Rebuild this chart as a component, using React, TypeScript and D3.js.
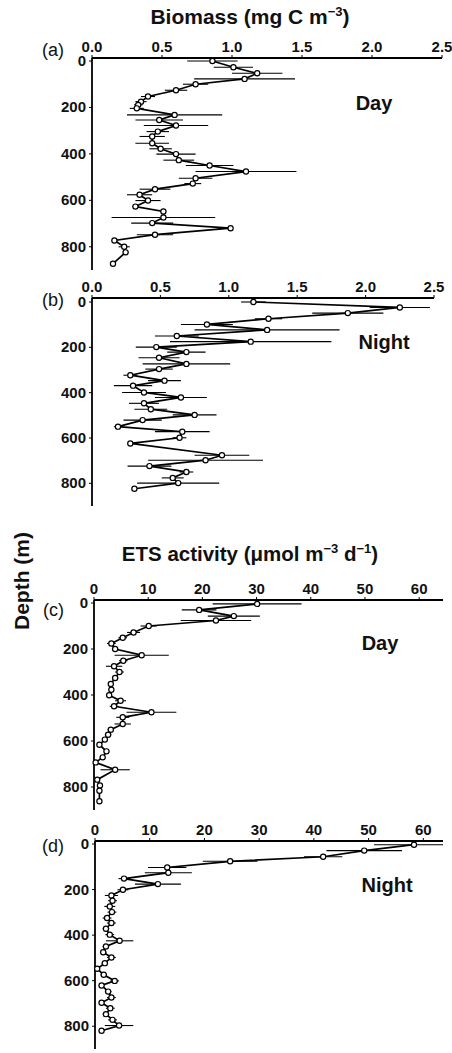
import React from 'react';
import * as d3 from 'd3';

// ---------- data ----------
const biomassDayDepth = [0, 27, 53, 77, 100, 126, 153, 175, 189, 204, 232, 254, 278, 304, 325, 354, 378, 401, 427, 450, 476, 505, 528, 552, 576, 601, 627, 648, 674, 698, 720, 748, 773, 800, 824, 873];
const biomassDayMean = [0.86, 1.01, 1.18, 1.09, 0.74, 0.6, 0.4, 0.35, 0.33, 0.32, 0.59, 0.48, 0.6, 0.47, 0.43, 0.43, 0.49, 0.6, 0.62, 0.84, 1.1, 0.74, 0.72, 0.45, 0.34, 0.4, 0.31, 0.51, 0.51, 0.43, 0.99, 0.45, 0.16, 0.23, 0.24, 0.15];
const biomassDaySd = [0.18, 0.14, 0.18, 0.36, 0.09, 0.08, 0.05, 0.04, 0.03, 0.05, 0.34, 0.17, 0.23, 0.08, 0.09, 0.12, 0.08, 0.14, 0.11, 0.17, 0.36, 0.12, 0.06, 0.11, 0.09, 0.09, 0.02, 0.02, 0.37, 0.15, 0.01, 0.13, 0.02, 0.04, 0.02, 0.01];

const biomassNightDepth = [0, 24, 49, 74, 99, 123, 150, 175, 199, 221, 246, 273, 296, 323, 347, 369, 399, 421, 447, 473, 498, 521, 550, 572, 599, 624, 676, 698, 724, 750, 776, 799, 824];
const biomassNightMean = [1.18, 2.25, 1.87, 1.29, 0.84, 1.28, 0.62, 1.16, 0.47, 0.69, 0.49, 0.69, 0.49, 0.28, 0.53, 0.3, 0.38, 0.65, 0.38, 0.43, 0.75, 0.37, 0.19, 0.66, 0.64, 0.28, 0.95, 0.83, 0.42, 0.69, 0.59, 0.63, 0.31];
const biomassNightSd = [0.09, 0.22, 0.26, 0.1, 0.19, 0.53, 0.16, 0.59, 0.15, 0.14, 0.15, 0.32, 0.1, 0.05, 0.12, 0.14, 0.16, 0.19, 0.11, 0.12, 0.16, 0.14, 0.03, 0.2, 0.05, 0.02, 0.2, 0.42, 0.16, 0.05, 0.08, 0.3, 0.02];

const etsDayDepth = [4, 30, 57, 76, 100, 128, 151, 176, 200, 227, 251, 275, 300, 326, 352, 377, 401, 425, 449, 475, 497, 526, 551, 573, 594, 616, 645, 671, 693, 725, 768, 793, 816, 862];
const etsDayMean = [30.1, 19.4, 25.8, 22.5, 10.1, 7.3, 5.3, 3.2, 3.9, 8.8, 5.4, 3.7, 4.7, 3.9, 3.1, 3.2, 2.8, 4.9, 3.7, 10.6, 5.3, 5.3, 3.1, 2.6, 2.0, 1.0, 2.3, 1.6, 0.3, 3.9, 0.6, 1.1, 1.0, 1.0];
const etsDaySd = [8.2, 3.2, 4.8, 6.5, 1.5, 1.2, 0.8, 0.8, 0.6, 5.0, 0.8, 1.5, 0.8, 0.6, 0.5, 0.5, 0.5, 1.0, 0.8, 4.6, 1.2, 1.5, 0.6, 0.6, 0.5, 0.5, 0.5, 0.5, 0.3, 2.7, 0.3, 0.3, 0.3, 0.3];

const etsNightDepth = [3, 29, 56, 76, 103, 126, 152, 176, 201, 226, 249, 274, 299, 325, 347, 372, 398, 425, 450, 475, 498, 523, 548, 574, 601, 621, 648, 674, 697, 721, 747, 772, 797, 820];
const etsNightMean = [58.3, 49.2, 41.7, 24.7, 13.2, 13.4, 5.3, 11.5, 5.1, 3.0, 3.2, 2.7, 3.1, 2.2, 3.0, 2.0, 2.7, 4.5, 2.0, 1.5, 3.0, 1.8, 0.4, 1.6, 3.6, 1.2, 2.4, 3.0, 1.2, 2.8, 2.0, 3.2, 4.4, 1.2];
const etsNightSd = [7.3, 6.9, 3.5, 5.0, 3.5, 4.3, 1.0, 4.2, 1.0, 1.2, 0.8, 1.0, 0.8, 0.8, 0.8, 0.6, 0.8, 2.5, 0.6, 0.6, 0.8, 0.6, 0.3, 0.6, 0.8, 0.5, 0.6, 0.8, 0.5, 0.8, 0.6, 0.8, 2.6, 0.5];

const biomassTicks = [0, 0.5, 1.0, 1.5, 2.0, 2.5];
const etsTicks = [0, 10, 20, 30, 40, 50, 60];
const depthTicks = [0, 200, 400, 600, 800];

const FONT = "'Liberation Sans', Arial, Helvetica, sans-serif";

interface PanelCfg {
  key: string;
  tag: string;
  tagY: number;
  period: string;
  periodX: number;
  periodY: number;
  depth: number[];
  mean: number[];
  sd: number[];
  xMax: number;
  xRange: [number, number];
  yRange: [number, number];
  lineY: number;
  ticks: number[];
  fmt: (v: number) => string;
}

const fmt1 = d3.format('.1f');
const fmt0 = d3.format('d');

const panels: PanelCfg[] = [
  { key: 'a', tag: '(a)', tagY: 56, period: 'Day', periodX: 374, periodY: 110, depth: biomassDayDepth, mean: biomassDayMean, sd: biomassDaySd, xMax: 2.5, xRange: [92, 442], yRange: [61, 270], lineY: 58, ticks: biomassTicks, fmt: fmt1 },
  { key: 'b', tag: '(b)', tagY: 306, period: 'Night', periodX: 384, periodY: 349, depth: biomassNightDepth, mean: biomassNightMean, sd: biomassNightSd, xMax: 2.5, xRange: [92, 434], yRange: [302, 506], lineY: 298, ticks: biomassTicks, fmt: fmt1 },
  { key: 'c', tag: '(c)', tagY: 616, period: 'Day', periodX: 380, periodY: 650, depth: etsDayDepth, mean: etsDayMean, sd: etsDaySd, xMax: 64.4, xRange: [94, 443], yRange: [603, 810], lineY: 600, ticks: etsTicks, fmt: fmt0 },
  { key: 'd', tag: '(d)', tagY: 852, period: 'Night', periodX: 387, periodY: 892, depth: etsNightDepth, mean: etsNightMean, sd: etsNightSd, xMax: 63.6, xRange: [95, 443], yRange: [844, 1049], lineY: 841, ticks: etsTicks, fmt: fmt0 },
];

function Panel({ p }: { p: PanelCfg }) {
  const x = d3.scaleLinear().domain([0, p.xMax]).range(p.xRange);
  const y = d3.scaleLinear().domain([0, 900]).range(p.yRange);
  const pts = p.depth.map((d, i) => ({ d, m: p.mean[i], s: p.sd[i] }));
  const line = d3.line<{ d: number; m: number }>().x((q) => x(q.m)).y((q) => y(q.d));
  const x0 = x(0);
  return (
    <g>
      <line x1={x0} x2={x(p.xMax)} y1={p.lineY} y2={p.lineY} stroke="#000" strokeWidth={1.8} />
      <line x1={x0} x2={x0} y1={p.lineY} y2={y(900)} stroke="#000" strokeWidth={1.8} />
      {p.ticks.map((t) => (
        <g key={t}>
          <line x1={x(t)} x2={x(t)} y1={p.lineY} y2={p.lineY - 3} stroke="#000" strokeWidth={1} />
          <text x={x(t)} y={p.lineY - 6} textAnchor="middle" fontSize={15} fontWeight="bold" fill="#111">
            {p.fmt(t)}
          </text>
        </g>
      ))}
      {depthTicks.map((t) => (
        <g key={t}>
          <line x1={x0 - 3} x2={x0} y1={y(t)} y2={y(t)} stroke="#000" strokeWidth={1} />
          <text x={x0 - 6} y={y(t) + 5} textAnchor="end" fontSize={15} fontWeight="bold" fill="#111">
            {t}
          </text>
        </g>
      ))}
      {pts.map((q, i) => (
        <line
          key={'e' + i}
          x1={x(Math.max(0, q.m - q.s))}
          x2={x(Math.min(p.xMax, q.m + q.s))}
          y1={y(q.d)}
          y2={y(q.d)}
          stroke="#000"
          strokeWidth={1.1}
        />
      ))}
      <path d={line(pts) || ''} fill="none" stroke="#000" strokeWidth={1.7} />
      {pts.map((q, i) => (
        <circle key={'c' + i} cx={x(q.m)} cy={y(q.d)} r={2.6} fill="#fff" stroke="#000" strokeWidth={1.2} />
      ))}
      <text x={64} y={p.tagY} textAnchor="end" fontSize={18} fill="#111">
        {p.tag}
      </text>
      <text x={p.periodX} y={p.periodY} textAnchor="middle" fontSize={20} fontWeight="bold" fill="#111">
        {p.period}
      </text>
    </g>
  );
}

export default function App() {
  return (
    <svg
      width={452}
      height={1053}
      style={{ position: 'absolute', left: 0, top: 0, background: '#fff' }}
      fontFamily={FONT}
    >
      <rect x={0} y={0} width={452} height={1053} fill="#fff" />
      <text x={250} y={24} textAnchor="middle" fontSize={21} fontWeight="bold" fill="#111">
        Biomass (mg C m
        <tspan dy={-8} fontSize={13}>−3</tspan>
        <tspan dy={8}>)</tspan>
      </text>
      <text x={250} y={561} textAnchor="middle" fontSize={20.5} fontWeight="bold" fill="#111">
        ETS activity (μmol m
        <tspan dy={-8} fontSize={13}>−3</tspan>
        <tspan dy={8}> d</tspan>
        <tspan dy={-8} fontSize={13}>−1</tspan>
        <tspan dy={8}>)</tspan>
      </text>
      <text
        transform="translate(29,581) rotate(-90)"
        textAnchor="middle"
        fontSize={21}
        fontWeight="bold"
        fill="#111"
      >
        Depth (m)
      </text>
      {panels.map((p) => (
        <Panel key={p.key} p={p} />
      ))}
    </svg>
  );
}
